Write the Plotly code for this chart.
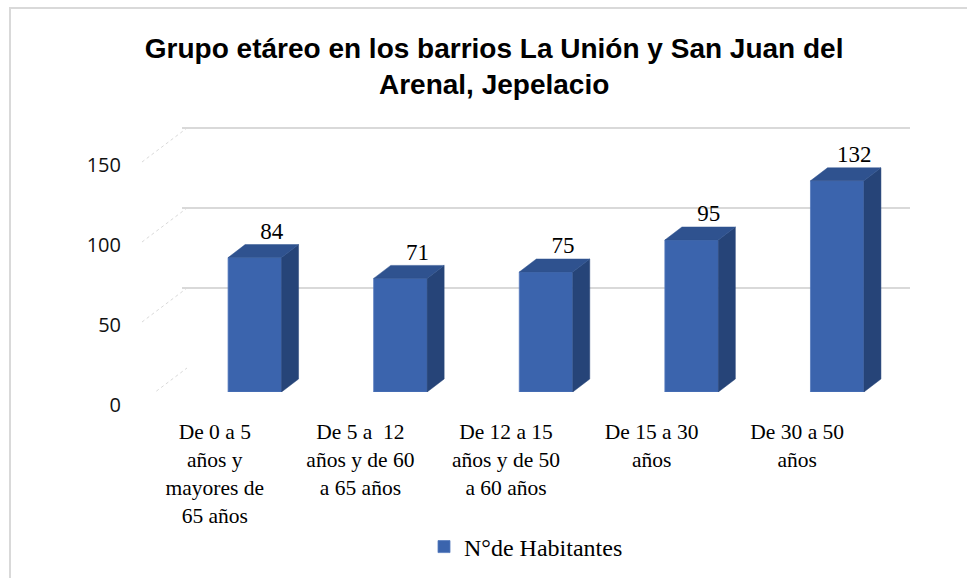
import plotly.graph_objects as go

# ---- data ----
categories = [
    "De 0 a 5<br>años y<br>mayores de<br>65 años",
    "De 5 a  12<br>años y de 60<br>a 65 años",
    "De 12 a 15<br>años y de 50<br>a 60 años",
    "De 15 a 30<br>años",
    "De 30 a 50<br>años",
]
habitantes = [84, 71, 75, 95, 132]
y_ticks = [0, 50, 100, 150]
series_name = "N°de Habitantes"
title_text = "Grupo etáreo en los barrios La Unión y San Juan del<br>Arenal, Jepelacio"

# ---- layout geometry ----
W, H = 967, 578
L, R, T, B = 60, 57, 120, 186
PW, PH = W - L - R, H - T - B
def px_x(px):
    return (px - L) / PW
def px_y(py):
    return (H - B - py) / PH

YMAX = 170.0             # main value axis: 0 at bottom of plot area
UPP = YMAX / PH          # units per pixel
depth_dx = 0.117         # 3D depth, in category units
depth_dy = 13 * UPP      # 3D depth, in value units
bar_w = 0.367
x_pos = list(range(len(habitantes)))

FRONT = "#3B64AD"
SIDE = "#264478"
TOP = "#2F528F"

# side & top faces computed from the values
side_x, side_y, top_x, top_y = [], [], [], []
for xi, v in zip(x_pos, habitantes):
    r = xi + bar_w / 2
    l = xi - bar_w / 2
    side_x += [r, r + depth_dx, r + depth_dx, r, r, None]
    side_y += [0, depth_dy, v + depth_dy, v, 0, None]
    top_x += [l, l + depth_dx, r + depth_dx, r, l, None]
    top_y += [v, v + depth_dy, v + depth_dy, v, v, None]

fig = go.Figure()
fig.add_trace(go.Bar(
    x=x_pos, y=habitantes, width=bar_w, name=series_name,
    marker=dict(color=FRONT, line=dict(color="#5479BD", width=0.8)),
    hoverinfo="skip", showlegend=True,
))
fig.add_trace(go.Scatter(
    x=side_x, y=side_y, mode="lines", fill="toself", fillcolor=SIDE,
    line=dict(color=SIDE, width=0.5), hoverinfo="skip", showlegend=False,
))
fig.add_trace(go.Scatter(
    x=top_x, y=top_y, mode="lines", fill="toself", fillcolor=TOP,
    line=dict(color=TOP, width=0.5), hoverinfo="skip", showlegend=False,
))
fig.add_trace(go.Scatter(
    x=[xi + depth_dx for xi in x_pos], y=[v + depth_dy for v in habitantes],
    mode="text", text=[str(v) for v in habitantes], textposition="top center",
    textfont=dict(family="Liberation Serif", size=23, color="#000000"),
    hoverinfo="skip", showlegend=False, cliponaxis=False,
))
# helper traces to register the overlay axes
fig.add_trace(go.Scatter(x=x_pos, y=[0] * len(x_pos), xaxis="x2", yaxis="y",
                         mode="markers", opacity=0, hoverinfo="skip", showlegend=False))
fig.add_trace(go.Scatter(x=x_pos, y=[0] * len(x_pos), xaxis="x", yaxis="y2",
                         mode="markers", opacity=0, hoverinfo="skip", showlegend=False))
fig.add_trace(go.Scatter(x=x_pos, y=[0] * len(x_pos), xaxis="x", yaxis="y3",
                         mode="markers", opacity=0, hoverinfo="skip", showlegend=False))

x_dom = [px_x(182), 1.0]
back_shift = 24 * UPP    # back wall is 24 px above bar base
x_label_shift = 40 / (PW * (x_dom[1] - x_dom[0]) / 5)

fig.update_layout(
    width=W, height=H,
    margin=dict(l=L, r=R, t=T, b=B, autoexpand=False),
    paper_bgcolor="white", plot_bgcolor="rgba(0,0,0,0)",
    title=dict(text=title_text, x=0.511, xanchor="center", y=0.90, yanchor="top",
               yref="container",
               font=dict(family="Liberation Sans", size=28, color="#000000", weight="bold")),
    xaxis=dict(domain=x_dom, range=[-0.5, 4.5], showgrid=False, zeroline=False,
               showticklabels=False, showline=False, automargin=False),
    xaxis2=dict(overlaying="x", anchor="y", domain=x_dom,
                range=[-0.5 + x_label_shift, 4.5 + x_label_shift],
                tickmode="array", tickvals=x_pos, ticktext=categories,
                ticks="outside", ticklen=20, tickcolor="rgba(0,0,0,0)",
                showgrid=False, zeroline=False, showline=False, automargin=False,
                tickfont=dict(family="Liberation Serif", size=21.5, color="#000000")),
    yaxis=dict(range=[0, YMAX], showgrid=False, zeroline=False,
               showticklabels=False, showline=False, automargin=False),
    yaxis2=dict(overlaying="y", anchor="x", range=[-back_shift, YMAX - back_shift],
                tickmode="array", tickvals=y_ticks[1:], showticklabels=False,
                showgrid=True, gridcolor="#D9D9D9", gridwidth=2, zeroline=False,
                showline=False, automargin=False),
    yaxis3=dict(overlaying="y", anchor="free", position=px_x(121),
                range=[0, YMAX], ticklabelshift=13,
                tickmode="array", tickvals=y_ticks, showgrid=False, zeroline=False,
                showline=False, ticks="", automargin=False,
                tickfont=dict(family="Open Sans", size=20, color="#111111")),
    legend=dict(orientation="h", x=px_x(526), xanchor="center", y=px_y(547), yanchor="middle",
                font=dict(family="Liberation Serif", size=24, color="#000000"),
                bgcolor="rgba(0,0,0,0)"),
    showlegend=True,
)

# faint dashed perspective lines from the y labels to the back wall
shapes = []
for v in y_ticks:
    shapes.append(dict(type="line", xref="paper", yref="y2",
                       x0=px_x(142), y0=v - 34 * UPP, x1=px_x(187), y1=v,
                       line=dict(color="#D9D9D9", width=1, dash="dot")))
# chart frame
shapes.append(dict(type="rect", xref="paper", yref="paper",
                   x0=px_x(10), y0=px_y(H + 20), x1=px_x(W + 20), y1=px_y(8),
                   line=dict(color="#D9D9D9", width=2), fillcolor="rgba(0,0,0,0)", layer="below"))
fig.update_layout(shapes=shapes)

fig.write_html("out.html", config={"displayModeBar": False},
               post_script="document.body.style.margin='0';")
